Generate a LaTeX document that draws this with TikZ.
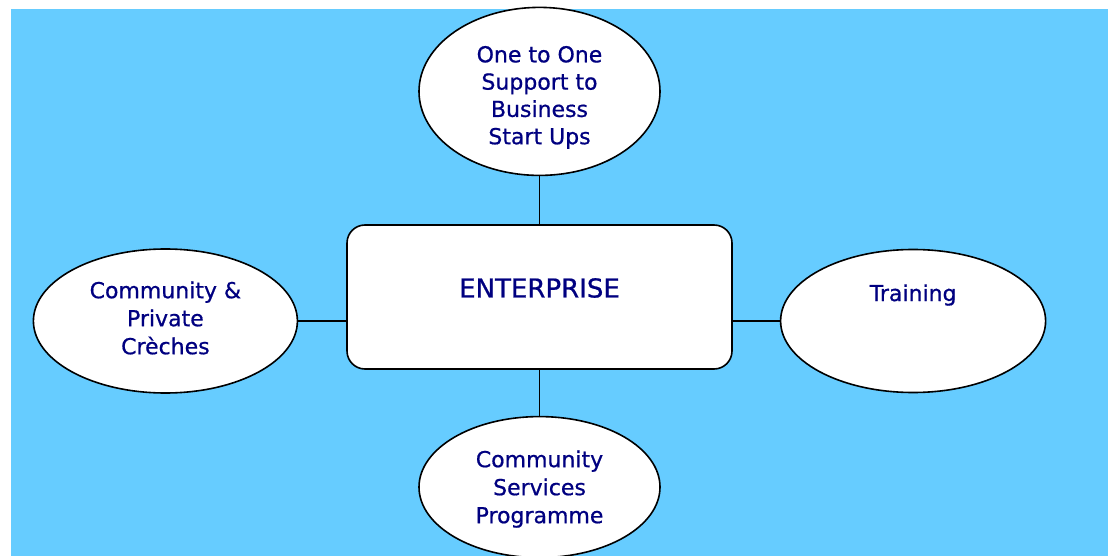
\documentclass[tikz,border=0pt]{standalone}
\usepackage{fontspec}
\setmainfont{DejaVu Sans}
\newfontfamily\labelfont{DejaVu Sans}[FakeBold=0.7]
\usetikzlibrary{shapes.geometric, positioning}
\definecolor{skyblue}{RGB}{102,204,255}
\definecolor{navytext}{RGB}{0,0,128}

\begin{document}
\begin{tikzpicture}[x=1pt,y=-1pt,line width=1.6pt,
  bubble/.style={ellipse,draw,fill=white,inner sep=0pt},
  centrebox/.style={rectangle,draw,fill=white,rounded corners=18pt,minimum width=385pt,minimum height=144pt},
  txt/.style={text=navytext,align=center,font=\labelfont\fontsize{22}{28}\selectfont}]
			\useasboundingbox (0,0) rectangle (1108,556);
			\fill[skyblue] (11,9) rectangle (1108,556);
			\node[centrebox, label={[txt,font=\labelfont\fontsize{26}{30}\selectfont,yshift=9pt]center:ENTERPRISE}] (ent) at (539.5,297) {};
			\node[bubble, minimum width=241pt, minimum height=168pt, above=48pt of ent,
			      label={[txt,font=\labelfont\fontsize{22}{27.3}\selectfont,yshift=-6pt]center:One to One\\Support to\\Business\\Start Ups}] (support) {};
			\node[bubble, minimum width=241pt, minimum height=141pt, below=46pt of ent,
			      label={[txt,yshift=-2pt]center:Community\\Services\\Programme}] (services) {};
			\node[bubble, minimum width=264pt, minimum height=144pt, left=48pt of ent, yshift=-24pt,
			      label={[txt,yshift=3pt]center:Community \&\\Private\\Crèches}] (creches) {};
			\node[bubble, minimum width=265pt, minimum height=143pt, right=47pt of ent, yshift=-24pt,
			      label={[txt,yshift=26pt]center:Training}] (training) {};
			\draw (ent) -- (support);
			\draw (ent) -- (services);
			\draw (creches.east) -- (creches.east -| ent.west);
			\draw (training.west) -- (training.west -| ent.east);
		\end{tikzpicture}
\end{document}
